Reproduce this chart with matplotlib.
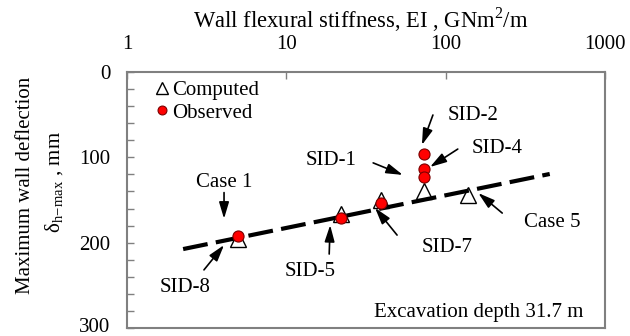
import matplotlib
matplotlib.use("Agg")
import matplotlib.pyplot as plt
import matplotlib.transforms as mtransforms
from matplotlib.ticker import FixedLocator, NullLocator, MultipleLocator

plt.rcParams['font.family'] = ['Liberation Serif', 'DejaVu Serif']
plt.rcParams['mathtext.fontset'] = 'custom'
plt.rcParams['mathtext.rm'] = 'Liberation Serif'

# wall stiffness (GNm2/m) and max deflection (mm)
ei_computed = [5, 22, 39, 73, 139]
defl_computed = [196, 166, 150, 140, 144]
ei_observed = [5, 22, 39, 73, 73, 73]
defl_observed = [192, 171, 154, 96, 114, 123]

# regression line end points
trend_ei = [2.25, 450]
trend_defl = [207.5, 119.5]

x_ticks = [1, 10, 100, 1000]
x_ticklabels = ['1', '10', '100', '1000']
y_ticks = [0, 100, 200, 300]

# label text, text pos (axes frac), arrow start, arrow tip
callouts = [
    ("Case 1", (0.203, 0.568), (0.203, 0.529), (0.203, 0.427)),
    ("SID-8", (0.121, 0.160), (0.161, 0.227), (0.203, 0.324)),
    ("SID-5", (0.383, 0.219), (0.423, 0.289), (0.425, 0.402)),
    ("SID-1", (0.427, 0.656), (0.515, 0.645), (0.577, 0.598)),
    ("SID-2", (0.724, 0.832), (0.640, 0.832), (0.617, 0.715)),
    ("SID-4", (0.774, 0.703), (0.692, 0.699), (0.634, 0.629)),
    ("SID-7", (0.669, 0.316), (0.565, 0.363), (0.519, 0.469)),
    ("Case 5", (0.889, 0.414), (0.785, 0.449), (0.735, 0.527)),
]

fig = plt.figure(figsize=(6.3, 3.36), dpi=100)
ax = fig.add_axes([0.2016, 0.0238, 0.7587, 0.7619])

ax.plot(ei_computed, defl_computed, linestyle='none', marker='^', ms=11,
        mfc='white', mec='black', mew=1.0, zorder=2, label='Computed')
ax.plot(trend_ei, trend_defl, color='black', lw=3, dashes=(6, 2),
        zorder=3)
ax.plot(ei_observed, defl_observed, linestyle='none', marker='o', ms=8,
        mfc='#ff0000', mec='#7a0000', mew=0.8, zorder=4, label='Observed')

ax.set_xscale('log')
ax.set_xlim(1, 1000)
ax.set_ylim(300, 0)

ax.xaxis.tick_top()
ax.xaxis.set_major_locator(FixedLocator(x_ticks))
ax.xaxis.set_minor_locator(NullLocator())
ax.set_xticklabels(x_ticklabels)
ax.yaxis.set_major_locator(FixedLocator(y_ticks))
ax.yaxis.set_minor_locator(MultipleLocator(20))
ax.tick_params(axis='x', which='both', direction='in', length=5,
               color='#808080', width=1, labelsize=15, pad=13)
ax.tick_params(axis='y', which='both', direction='in', length=5,
               color='#808080', width=1, labelsize=15, pad=12)

# keep the bottom "300" inside the canvas
last = ax.get_yticklabels()[-1]
last.set_transform(last.get_transform() +
                   mtransforms.ScaledTranslation(0, 2.5 / 72, fig.dpi_scale_trans))

for sp in ax.spines.values():
    sp.set_color('#808080')
    sp.set_linewidth(1.5)

# axis titles
fig.text(0.572, 0.917, r"Wall flexural stiffness, EI , GNm$^{2}$/m",
         fontsize=16.3, ha='center', va='baseline')
fig.text(0.040, 0.449, "Maximum wall deflection", rotation=90,
         fontsize=15, ha='center', va='center')
fig.text(0.087, 0.458, r"δ$_{\mathrm{h\!-\!max}}$ , mm", rotation=90,
         fontsize=15, ha='center', va='center')

leg = ax.legend(loc='upper left', bbox_to_anchor=(0.045, 1.0),
                frameon=False, fontsize=15, handlelength=0.5,
                handletextpad=0.25, labelspacing=0.15, borderaxespad=0.0,
                markerscale=0.8)

for text, tpos, start, tip in callouts:
    ax.text(tpos[0], tpos[1], text, transform=ax.transAxes, fontsize=15,
            ha='center', va='center')
    ax.annotate('', xy=tip, xytext=start, xycoords='axes fraction',
                textcoords='axes fraction',
                arrowprops=dict(arrowstyle='-|>,head_length=1.0,head_width=0.3',
                                color='black', lw=1.2, shrinkA=0, shrinkB=0))

ax.text(0.954, 0.059, "Excavation depth 31.7 m", transform=ax.transAxes,
        fontsize=15, ha='right', va='center')

fig.savefig('out.png', dpi=100)
